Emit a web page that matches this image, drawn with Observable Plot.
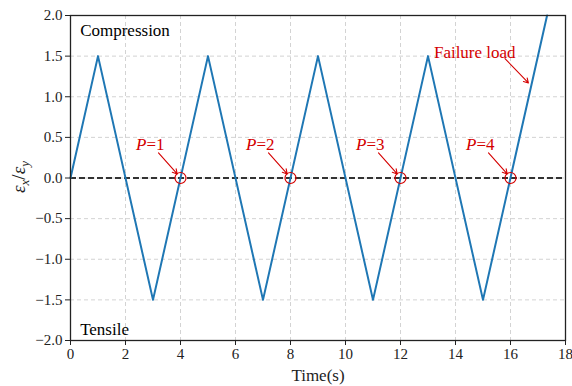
<!DOCTYPE html>
<html><head><meta charset="utf-8">
<script src="https://cdn.jsdelivr.net/npm/d3@7"></script>
<script src="https://cdn.jsdelivr.net/npm/@observablehq/plot@0.6"></script>
<style>
body{margin:0;background:#fff;}
</style></head>
<body><div id="chart"></div>
<script>
const times = [0, 1, 3, 5, 7, 9, 11, 13, 15, 17.33];
const ratios = [0, 1.5, -1.5, 1.5, -1.5, 1.5, -1.5, 1.5, -1.5, 2.0];
const crossTimes = [4, 8, 12, 16];
const crossLabels = ["1", "2", "3", "4"];
const xTicks = [0, 2, 4, 6, 8, 10, 12, 14, 16, 18];
const yTicks = [-2, -1.5, -1, -0.5, 0, 0.5, 1, 1.5, 2];

const series = times.map((t, i) => ({t, r: ratios[i]}));
const crosses = crossTimes.map((t, i) => ({t, lab: crossLabels[i]}));
const red = "#d40000";
const fmt = d3.format(".1f");
const serif = "'Liberation Serif', 'DejaVu Serif', serif";

const plot = Plot.plot({
  width: 572, height: 386,
  marginLeft: 70, marginRight: 7, marginTop: 15, marginBottom: 46,
  x: {domain: [0, 18]},
  y: {domain: [-2, 2]},
  style: {fontSize: "15px", background: "#fff", fontFamily: serif},
  marks: [
    Plot.gridX(xTicks, {stroke: "#c8c8c8", strokeOpacity: 1, strokeDasharray: "4,3", strokeWidth: 0.8}),
    Plot.gridY(yTicks, {stroke: "#c8c8c8", strokeOpacity: 1, strokeDasharray: "4,3", strokeWidth: 0.8}),
    Plot.ruleY([0], {stroke: "#333", strokeWidth: 2.2, strokeDasharray: "6,3"}),
    Plot.line(series, {x: "t", y: "r", stroke: "#1f77b4", strokeWidth: 2}),
    Plot.dot(crosses, {x: "t", y: () => 0, r: 5.5, stroke: red, strokeWidth: 1.2, fill: "none"}),
    Plot.arrow(crosses, {x1: d => d.t - 0.8, y1: 0.31, x2: d => d.t - 0.12, y2: 0.05, stroke: red, strokeWidth: 1.1, headLength: 7}),
    Plot.text(crosses, {x: d => d.t - 1.1, y: 0.41, text: d => "P=" + d.lab, fill: red, fontSize: 17, textAnchor: "middle"}),
    Plot.arrow([{x1: 15.8, y1: 1.47, x2: 16.65, y2: 1.17}], {x1: "x1", y1: "y1", x2: "x2", y2: "y2", stroke: red, strokeWidth: 1.1, headLength: 7}),
    Plot.text(["Failure load"], {x: 14.7, y: 1.54, text: d => d, fill: red, fontSize: 17, textAnchor: "middle"}),
    Plot.text(["Compression"], {x: 0.35, y: 1.81, text: d => d, fill: "#000", fontSize: 17, textAnchor: "start"}),
    Plot.text(["Tensile"], {x: 0.35, y: -1.87, text: d => d, fill: "#000", fontSize: 17, textAnchor: "start"}),
    Plot.frame({stroke: "#222", strokeWidth: 1.3}),
    Plot.axisX(xTicks, {tickSize: 5, tickPadding: 3, fontSize: 15, label: "Time(s)", labelAnchor: "center", labelArrow: "none", labelOffset: 40, color: "#222"}),
    Plot.axisY(yTicks, {tickSize: 5, tickPadding: 3, fontSize: 15, tickFormat: fmt, label: null, color: "#222"})
  ]
});
document.getElementById("chart").appendChild(plot);

// italicize "P" in labels
d3.select(plot).selectAll("text").each(function() {
  const t = this.textContent;
  if (/^P=\d$/.test(t)) {
    const el = d3.select(this);
    const tspan = el.select("tspan");
    const target = tspan.empty() ? el : tspan;
    target.text(null);
    target.append("tspan").attr("font-style", "italic").text("P");
    target.append("tspan").text(t.slice(1));
  }
});
// larger x-axis label
d3.select(plot).selectAll("text").filter(function() { return this.textContent === "Time(s)"; })
  .attr("font-size", 17);

// y label with subscripts
const yl = d3.select(plot).append("text")
  .attr("transform", "translate(25,177) rotate(-90)")
  .attr("text-anchor", "middle")
  .attr("font-size", 19)
  .attr("fill", "#222");
yl.append("tspan").attr("font-style", "italic").text("ε");
yl.append("tspan").attr("font-style", "italic").attr("font-size", 13).attr("dy", 4).text("x");
yl.append("tspan").attr("dy", -4).text("/");
yl.append("tspan").attr("font-style", "italic").text("ε");
yl.append("tspan").attr("font-style", "italic").attr("font-size", 13).attr("dy", 4).text("y");

// force serif everywhere
d3.select(plot).selectAll("g, text").attr("font-family", serif).style("font-family", serif);
</script></body></html>
